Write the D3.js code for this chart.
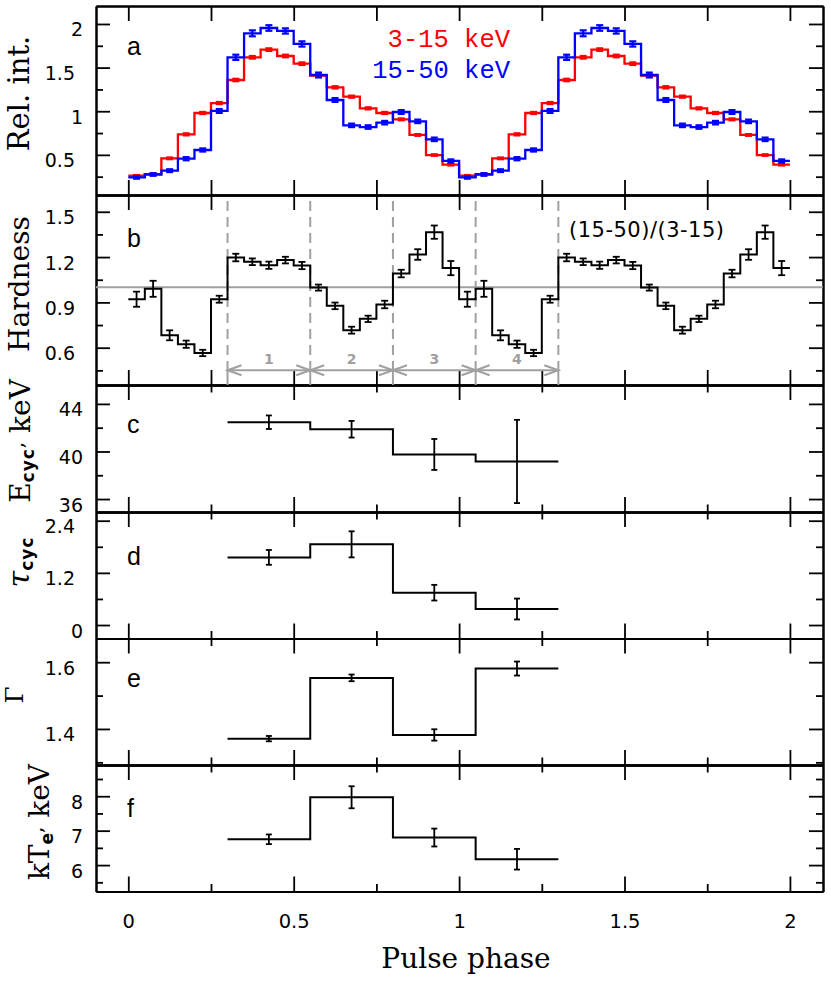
<!DOCTYPE html>
<html><head><meta charset="utf-8">
<script src="https://cdn.jsdelivr.net/npm/d3@7"></script>
<style>body{margin:0;background:#fff}</style>
</head><body>
<svg id="chart" width="831" height="981"></svg>
<script>
// ---------- DATA ----------
const phaseBins = [0.00,0.05,0.10,0.15,0.20,0.25,0.30,0.35,0.40,0.45,0.50,0.55,0.60,0.65,0.70,0.75,0.80,0.85,0.90,0.95,
                   1.00,1.05,1.10,1.15,1.20,1.25,1.30,1.35,1.40,1.45,1.50,1.55,1.60,1.65,1.70,1.75,1.80,1.85,1.90,1.95];
const binWidth = 0.05;
const soft = [0.261,0.280,0.460,0.735,0.980,1.094,1.358,1.618,1.706,1.633,1.545,1.408,1.274,1.167,1.033,0.980,0.907,0.728,0.498,0.387,
              0.261,0.280,0.460,0.735,0.980,1.094,1.358,1.618,1.706,1.633,1.545,1.408,1.274,1.167,1.033,0.980,0.907,0.728,0.498,0.387];
const softErr = [0.008,0.008,0.010,0.012,0.012,0.012,0.014,0.015,0.015,0.015,0.015,0.014,0.013,0.012,0.012,0.012,0.011,0.010,0.009,0.009,
                 0.008,0.008,0.010,0.012,0.012,0.012,0.014,0.015,0.015,0.015,0.015,0.014,0.013,0.012,0.012,0.012,0.011,0.010,0.009,0.009];
const hard = [0.242,0.275,0.319,0.456,0.556,1.003,1.618,1.893,1.954,1.920,1.771,1.415,1.129,0.838,0.819,0.869,0.991,0.884,0.678,0.430,
              0.242,0.275,0.319,0.456,0.556,1.003,1.618,1.893,1.954,1.920,1.771,1.415,1.129,0.838,0.819,0.869,0.991,0.884,0.678,0.430];
const hardErr = [0.015,0.015,0.016,0.018,0.018,0.022,0.030,0.034,0.032,0.030,0.030,0.028,0.022,0.020,0.020,0.020,0.022,0.020,0.020,0.018,
                 0.015,0.015,0.016,0.018,0.018,0.022,0.030,0.034,0.032,0.030,0.030,0.028,0.022,0.020,0.020,0.020,0.022,0.020,0.020,0.018];
const hardness = [0.921,0.990,0.682,0.623,0.565,0.921,1.197,1.169,1.146,1.180,1.144,0.998,0.877,0.716,0.791,0.886,1.091,1.217,1.365,1.127,
                  0.921,0.990,0.682,0.623,0.565,0.921,1.197,1.169,1.146,1.180,1.144,0.998,0.877,0.716,0.791,0.886,1.091,1.217,1.365,1.127];
const hardnessErr = [0.050,0.053,0.033,0.024,0.021,0.023,0.025,0.022,0.024,0.022,0.024,0.020,0.022,0.023,0.021,0.025,0.025,0.035,0.044,0.047,
                     0.050,0.053,0.033,0.024,0.021,0.023,0.025,0.022,0.024,0.022,0.024,0.020,0.022,0.023,0.021,0.025,0.025,0.035,0.044,0.047];

const specBins = [0.30,0.55,0.80,1.05];
const specWidth = 0.25;
const specLabels = ["1","2","3","4"];
const eCyc = [42.46,41.87,39.75,39.16];
const eCycErr = [0.57,0.70,1.30,3.50];
const tauCyc = [1.556,1.856,0.744,0.368];
const tauCycErr = [0.17,0.30,0.18,0.24];
const gammaIdx = [1.371,1.553,1.382,1.581];
const gammaErr = [0.008,0.010,0.017,0.021];
const kTe = [6.75,7.97,6.80,6.17];
const kTeErr = [0.14,0.32,0.26,0.30];

const xTicksQuarter = [0,0.25,0.5,0.75,1,1.25,1.5,1.75,2];
const xTicksMajor = [0,0.5,1,1.5,2];
const xTicksMinor = [0.25,0.75,1.25,1.75];
const xTickLabels = ["0","0.5","1","1.5","2"];

const panelA_major=[0.5,1,1.5,2], panelA_minor=[0.25,0.75,1.25,1.75];
const panelB_major=[0.6,0.9,1.2,1.5], panelB_minor=[0.45,0.75,1.05,1.35];
const panelC_major=[36,40,44], panelC_minor=[38,42];
const panelD_major=[0,1.2,2.4], panelD_minor=[0.6,1.8];
const panelE_major=[1.4,1.6], panelE_minor=[1.3,1.5];
const panelF_major=[6,7,8], panelF_minor=[5.5,6.5,7.5,8.5];

// ---------- LAYOUT ----------
const svg = d3.select("#chart");
svg.append("rect").attr("width",831).attr("height",981).attr("fill","#fff");
const X0 = 96, X1 = 823;
const x = d3.scaleLinear().domain([-0.0976, 2.1]).range([X0, X1]);

const panels = [
  {key:"a", top:6,     bottom:195,   domain:[0.04,2.206],  major:panelA_major, minor:panelA_minor, quarter:true},
  {key:"b", top:195,   bottom:385,   domain:[0.353,1.611], major:panelB_major, minor:panelB_minor, quarter:true},
  {key:"c", top:385,   bottom:512,   domain:[34.91,45.59], major:panelC_major, minor:panelC_minor, quarter:false},
  {key:"d", top:512,   bottom:638.5, domain:[-0.31,2.6],   major:panelD_major, minor:panelD_minor, quarter:false},
  {key:"e", top:638.5, bottom:765,   domain:[1.292,1.671], major:panelE_major, minor:panelE_minor, quarter:false},
  {key:"f", top:765,   bottom:891.5, domain:[5.233,8.907], major:panelF_major, minor:panelF_minor, quarter:false}
];
panels.forEach(p => { p.y = d3.scaleLinear().domain(p.domain).range([p.bottom, p.top]); });
const P = Object.fromEntries(panels.map(p=>[p.key,p]));

const tickFont = "DejaVu Sans, sans-serif";
function styleAxis(g){
  g.select(".domain").attr("stroke","#000").attr("stroke-width",2);
  g.selectAll(".tick line").attr("stroke","#000").attr("stroke-width",1.8);
}

panels.forEach((p, idx) => {
  const gl = svg.append("g").attr("transform",`translate(${X0},0)`)
    .call(d3.axisLeft(p.y).tickValues(p.major).tickSizeInner(-14).tickSizeOuter(0).tickPadding(13)
      .tickFormat(d => String(+d.toFixed(2))));
  styleAxis(gl);
  gl.selectAll(".tick text").attr("font-family",tickFont).attr("font-size",19).attr("fill","#000")
    .attr("dy","0.63em")
    .attr("x", function(d){ return String(+d.toFixed(2)).includes(".") ? -21 : -13; });
  const glm = svg.append("g").attr("transform",`translate(${X0},0)`)
    .call(d3.axisLeft(p.y).tickValues(p.minor).tickSizeInner(-7).tickSizeOuter(0).tickFormat(""));
  styleAxis(glm);
  const gr = svg.append("g").attr("transform",`translate(${X1},0)`)
    .call(d3.axisRight(p.y).tickValues(p.major).tickSizeInner(-14).tickSizeOuter(0).tickFormat(""));
  styleAxis(gr);
  const grm = svg.append("g").attr("transform",`translate(${X1},0)`)
    .call(d3.axisRight(p.y).tickValues(p.minor).tickSizeInner(-7).tickSizeOuter(0).tickFormat(""));
  styleAxis(grm);
  const majT = p.quarter ? xTicksQuarter : xTicksMajor;
  const minT = p.quarter ? [] : xTicksMinor;
  const gt = svg.append("g").attr("transform",`translate(0,${p.top})`)
    .call(d3.axisTop(x).tickValues(majT).tickSizeInner(-15).tickSizeOuter(0).tickFormat(""));
  styleAxis(gt);
  const gtm = svg.append("g").attr("transform",`translate(0,${p.top})`)
    .call(d3.axisTop(x).tickValues(minT).tickSizeInner(-7.5).tickSizeOuter(0).tickFormat(""));
  styleAxis(gtm);
  const isLast = idx === panels.length-1;
  const gb = svg.append("g").attr("transform",`translate(0,${p.bottom})`)
    .call(d3.axisBottom(x).tickValues(majT).tickSizeInner(-15).tickSizeOuter(0).tickPadding(23)
      .tickFormat(isLast ? ((d,i) => xTickLabels[i]) : ""));
  styleAxis(gb);
  gb.selectAll(".tick text").attr("font-family",tickFont).attr("font-size",19.5).attr("fill","#000");
  const gbm = svg.append("g").attr("transform",`translate(0,${p.bottom})`)
    .call(d3.axisBottom(x).tickValues(minT).tickSizeInner(-7.5).tickSizeOuter(0).tickFormat(""));
  styleAxis(gbm);
});

// ---------- helpers ----------
function stepLine(starts, width, vals, yS){
  const pts = starts.map((s,i)=>[s, vals[i]]);
  pts.push([starts[starts.length-1]+width, vals[vals.length-1]]);
  return d3.line().x(d=>x(d[0])).y(d=>yS(d[1])).curve(d3.curveStepAfter)(pts);
}
function errorBars(xs, vals, errs, yS, color, cap, sw){
  const g = svg.append("g").attr("stroke",color).attr("stroke-width",sw).attr("fill","none");
  xs.forEach((xv,i)=>{
    const px = x(xv), ya = yS(vals[i]-errs[i]), yb = yS(vals[i]+errs[i]);
    g.append("line").attr("x1",px).attr("x2",px).attr("y1",ya).attr("y2",yb);
    g.append("line").attr("x1",px-cap).attr("x2",px+cap).attr("y1",ya).attr("y2",ya);
    g.append("line").attr("x1",px-cap).attr("x2",px+cap).attr("y1",yb).attr("y2",yb);
  });
}
const binCenters = phaseBins.map(s=>s+binWidth/2);
const specCenters = specBins.map(s=>s+specWidth/2);

// ---------- panel a ----------
svg.append("path").attr("d",stepLine(phaseBins,binWidth,soft,P.a.y)).attr("fill","none").attr("stroke","#ff0000").attr("stroke-width",2.3);
errorBars(binCenters, soft, softErr, P.a.y, "#ff0000", 3.5, 2.2);
svg.append("path").attr("d",stepLine(phaseBins,binWidth,hard,P.a.y)).attr("fill","none").attr("stroke","#0000ff").attr("stroke-width",2.3);
errorBars(binCenters, hard, hardErr, P.a.y, "#0000ff", 3.5, 2.2);
svg.append("text").attr("x",510).attr("y",47).attr("text-anchor","end").attr("font-family","Liberation Mono, monospace")
  .attr("font-size",25.5).attr("fill","#ff0000").text("3-15 keV");
svg.append("text").attr("x",510).attr("y",78).attr("text-anchor","end").attr("font-family","Liberation Mono, monospace")
  .attr("font-size",25.5).attr("fill","#0000ff").text("15-50 keV");

// ---------- panel b ----------
const gray = "#a0a0a0";
svg.append("line").attr("x1",X0).attr("x2",X1).attr("y1",P.b.y(1)).attr("y2",P.b.y(1)).attr("stroke",gray).attr("stroke-width",2);
const arrowY = 370.3;
const bounds = specBins.concat([specBins[specBins.length-1]+specWidth]);
bounds.forEach(b=>{
  svg.append("line").attr("x1",x(b)).attr("x2",x(b)).attr("y1",201).attr("y2",arrowY).attr("stroke",gray).attr("stroke-width",2).attr("stroke-dasharray","10,6");
  svg.append("line").attr("x1",x(b)).attr("x2",x(b)).attr("y1",arrowY).attr("y2",P.b.bottom).attr("stroke",gray).attr("stroke-width",2);
});
specBins.forEach((s,i)=>{
  const xa = x(s), xb = x(s+specWidth);
  svg.append("line").attr("x1",xa).attr("x2",xb).attr("y1",arrowY).attr("y2",arrowY).attr("stroke",gray).attr("stroke-width",2);
  svg.append("path").attr("d",`M${xa+14},${arrowY-5}L${xa},${arrowY}L${xa+14},${arrowY+5}`).attr("fill","none").attr("stroke",gray).attr("stroke-width",2);
  svg.append("path").attr("d",`M${xb-14},${arrowY-5}L${xb},${arrowY}L${xb-14},${arrowY+5}`).attr("fill","none").attr("stroke",gray).attr("stroke-width",2);
  svg.append("text").attr("x",x(specCenters[i])).attr("y",364).attr("text-anchor","middle").attr("font-family",tickFont)
    .attr("font-weight","bold").attr("font-size",14).attr("fill",gray).text(specLabels[i]);
});
svg.append("path").attr("d",stepLine(phaseBins,binWidth,hardness,P.b.y)).attr("fill","none").attr("stroke","#000").attr("stroke-width",2);
errorBars(binCenters, hardness, hardnessErr, P.b.y, "#000", 3.5, 1.8);
svg.append("text").attr("x",569).attr("y",237).attr("font-family",tickFont).attr("font-size",21).attr("fill","#000")
  .attr("letter-spacing",0.5).text("(15-50)/(3-15)");

// ---------- panels c-f ----------
[[P.c,eCyc,eCycErr],[P.d,tauCyc,tauCycErr],[P.e,gammaIdx,gammaErr],[P.f,kTe,kTeErr]].forEach(([p,v,e])=>{
  svg.append("path").attr("d",stepLine(specBins,specWidth,v,p.y)).attr("fill","none").attr("stroke","#000").attr("stroke-width",2);
  errorBars(specCenters, v, e, p.y, "#000", 3, 1.8);
});

// ---------- panel letters ----------
const letterPos = {a:55,b:247,c:433,d:565,e:687,f:817};
Object.entries(letterPos).forEach(([k,yy])=>{
  svg.append("text").attr("x",127).attr("y",yy).attr("font-family","Liberation Sans, Arial, sans-serif").attr("font-size",25).attr("fill","#000").text(k);
});

// ---------- axis titles ----------
const serif = "DejaVu Serif, serif";
function ytitle(cx, cy, size){
  return svg.append("text").attr("transform",`translate(${cx},${cy}) rotate(-90)`).attr("text-anchor","middle")
    .attr("font-family",serif).attr("font-size",size).attr("fill","#000");
}
ytitle(28.5, 93.5, 29).text("Rel. int.");
ytitle(28.5, 284, 28).text("Hardness");
{
  const t = ytitle(29.5, 441, 28);
  t.append("tspan").text("E");
  t.append("tspan").attr("font-family",tickFont).attr("font-weight","bold").attr("font-size",17).attr("dy",4).attr("letter-spacing",1).text("cyc");
  t.append("tspan").attr("font-size",20).attr("dy",-11).text(",");
  t.append("tspan").attr("dy",7).text(" keV");
}
{
  const t = ytitle(28.5, 562, 30);
  t.append("tspan").attr("font-style","italic").text("τ");
  t.append("tspan").attr("font-family",tickFont).attr("font-weight","bold").attr("font-size",17).attr("dy",4).attr("letter-spacing",1).text("cyc");
}
ytitle(23, 695, 24).text("Γ");
{
  const t = ytitle(49, 822, 28);
  t.append("tspan").text("kT");
  t.append("tspan").attr("font-family",tickFont).attr("font-weight","bold").attr("font-size",17).attr("dy",4).text("e");
  t.append("tspan").attr("font-size",20).attr("dy",-11).text(",");
  t.append("tspan").attr("dy",7).text(" keV");
}
svg.append("text").attr("x",466).attr("y",968).attr("text-anchor","middle").attr("font-family",serif).attr("font-size",28).attr("fill","#000").text("Pulse phase");
</script>
</body></html>
